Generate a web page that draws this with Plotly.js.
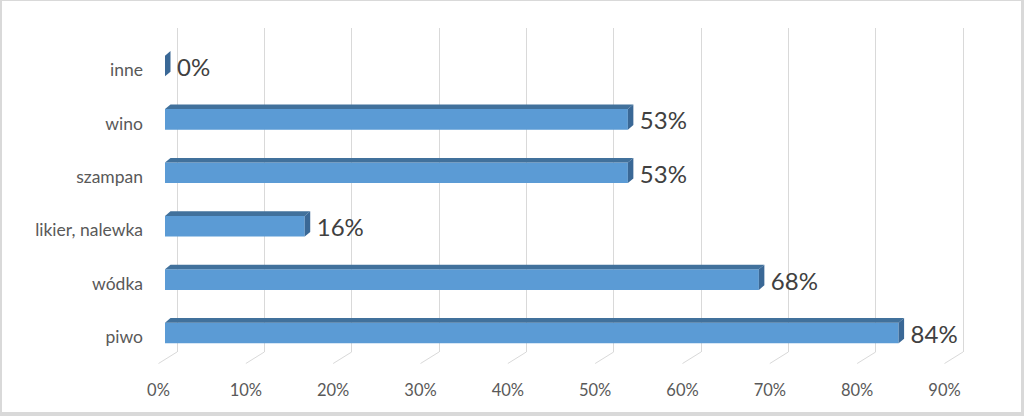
<!DOCTYPE html>
<html>
<head>
<meta charset="utf-8">
<script src="https://cdn.plot.ly/plotly-3.0.1.min.js"></script>
<style>
  html, body { margin: 0; padding: 0; background: #ffffff; }
  #wrap { position: relative; width: 1024px; height: 416px; }
  #chart { width: 1024px; height: 416px; }
  #frame { position: absolute; left: 0; top: 0; width: 1024px; height: 416px; box-sizing: border-box;
           border-left: 2px solid #d9d9d9; border-top: 1px solid #d9d9d9; border-right: 3px solid #d9d9d9; border-bottom: 4px solid #d9d9d9; pointer-events: none; }
</style>
</head>
<body>
<div id="wrap"><div id="chart"></div><div id="frame"></div></div>
<script>
// ---- data ----
const categories = ["piwo", "wódka", "likier, nalewka", "szampan", "wino", "inne"];
const values = [0.84, 0.68, 0.16, 0.53, 0.53, 0.00];
const labels = ["84%", "68%", "16%", "53%", "53%", "0%"];
const tickValues = [0, 0.1, 0.2, 0.3, 0.4, 0.5, 0.6, 0.7, 0.8, 0.9];
const tickLabels = ["0%", "10%", "20%", "30%", "40%", "50%", "60%", "70%", "80%", "90%"];

// ---- geometry (pixels) ----
const W = 1024, H = 416;
const mL = 150, mR = 24, mT = 28, mB = 64;
const plotW = W - mL - mR, plotH = H - mT - mB;
const zeroBackPx = 177;          // 0% on the back wall
const pxPerUnit = 873.33;        // pixels per 100%
const barShiftPx = 12;           // bar front face is shifted left from back wall
const floorShiftPx = 18.5;       // floor front edge shift
const floorDropPx = 11.5;
const catCenter0 = 333;          // pixel y of first category center
const catStep = 53.4;            // pixels per category
const faceH = 20.6;              // bar front face height
const depthDx = 5.5, depthDy = 4.6;
const catLabelDropPx = 4;
const valLabelDropPx = 4;

const x0 = (mL - zeroBackPx) / pxPerUnit;
const x1 = (mL + plotW - zeroBackPx) / pxPerUnit;
const shiftU = barShiftPx / pxPerUnit;
const floorShiftU = floorShiftPx / pxPerUnit;
const yBot = -((mT + plotH) - catCenter0) / catStep;
const yTop = yBot + plotH / catStep;
const catShiftU = catLabelDropPx / catStep;
const bw = faceH / catStep;
const ddx = depthDx / pxPerUnit, ddy = depthDy / catStep;
const idx = categories.map((c, i) => i);

// top & end faces
const topX = [], topY = [], endX = [], endY = [];
values.forEach((v, i) => {
  const t = i + bw / 2, b = i - bw / 2;
  topX.push(0, v, v + ddx, ddx, 0, null);
  topY.push(t, t, t + ddy, t + ddy, t, null);
  endX.push(v, v, v + ddx, v + ddx, v, null);
  endY.push(b, t, t + ddy, b + ddy, b, null);
});

const traces = [
  { type: "bar", orientation: "h", x: values, y: idx, width: bw, xaxis: "x2", yaxis: "y",
    marker: { color: "#5B9BD5", line: { width: 0 } }, hoverinfo: "skip" },
  { type: "scatter", mode: "lines", x: topX, y: topY, xaxis: "x2", yaxis: "y", fill: "toself",
    fillcolor: "#41719C", line: { width: 0, color: "#41719C" }, hoverinfo: "skip" },
  { type: "scatter", mode: "lines", x: endX, y: endY, xaxis: "x2", yaxis: "y", fill: "toself",
    fillcolor: "#3A6896", line: { width: 0, color: "#3A6896" }, hoverinfo: "skip" },
  { type: "scatter", mode: "text", x: values, y: idx.map(i => i - valLabelDropPx / catStep), text: labels,
    textposition: "middle right", cliponaxis: false, xaxis: "x", yaxis: "y",
    textfont: { family: "Lato, sans-serif", size: 24, color: "#404040" }, hoverinfo: "skip" }
];

const dropU = floorDropPx / plotH;
const shapes = tickValues.map(t => ({
  type: "line", xref: "x", yref: "paper", x0: t, y0: 0, x1: t - floorShiftU, y1: -dropU,
  line: { color: "#d9d9d9", width: 1 }
}));

const tickFont = { family: "Lato, sans-serif", size: 16.5, color: "#595959" };
const layout = {
  width: W, height: H,
  margin: { l: mL, r: mR, t: mT, b: mB, pad: 0 },
  paper_bgcolor: "#ffffff", plot_bgcolor: "#ffffff",
  showlegend: false,
  // back wall: gridlines only
  xaxis: { range: [x0, x1], tickvals: tickValues, showticklabels: false, showgrid: true,
           gridcolor: "#d9d9d9", gridwidth: 1, zeroline: false, showline: false, ticks: "", fixedrange: true },
  // bar front faces
  xaxis2: { range: [x0 + shiftU, x1 + shiftU], overlaying: "x", visible: false, fixedrange: true },
  // floor front edge: tick labels
  xaxis3: { range: [x0 + floorShiftU, x1 + floorShiftU], overlaying: "x", side: "bottom",
            tickvals: tickValues, ticktext: tickLabels, showgrid: false, zeroline: false, showline: false,
            ticks: "", ticklabelstandoff: 26, tickfont: tickFont, fixedrange: true },
  yaxis: { range: [yBot, yTop], tickvals: idx, showticklabels: false, showgrid: false, zeroline: false,
           showline: false, ticks: "", fixedrange: true },
  yaxis2: { range: [yBot + catShiftU, yTop + catShiftU], overlaying: "y", side: "left",
            tickvals: idx, ticktext: categories, showgrid: false, zeroline: false, showline: false,
            ticks: "", ticklabelstandoff: 6,
            tickfont: { family: "Lato, sans-serif", size: 17.5, color: "#595959" }, fixedrange: true },
  shapes: shapes
};

// invisible anchor traces so the label axes are drawn
traces.push({ type: "scatter", mode: "markers", x: [0], y: [0], xaxis: "x3", yaxis: "y2",
              marker: { opacity: 0 }, hoverinfo: "skip" });

Plotly.newPlot("chart", traces, layout, { staticPlot: true, displayModeBar: false });
</script>
</body>
</html>
